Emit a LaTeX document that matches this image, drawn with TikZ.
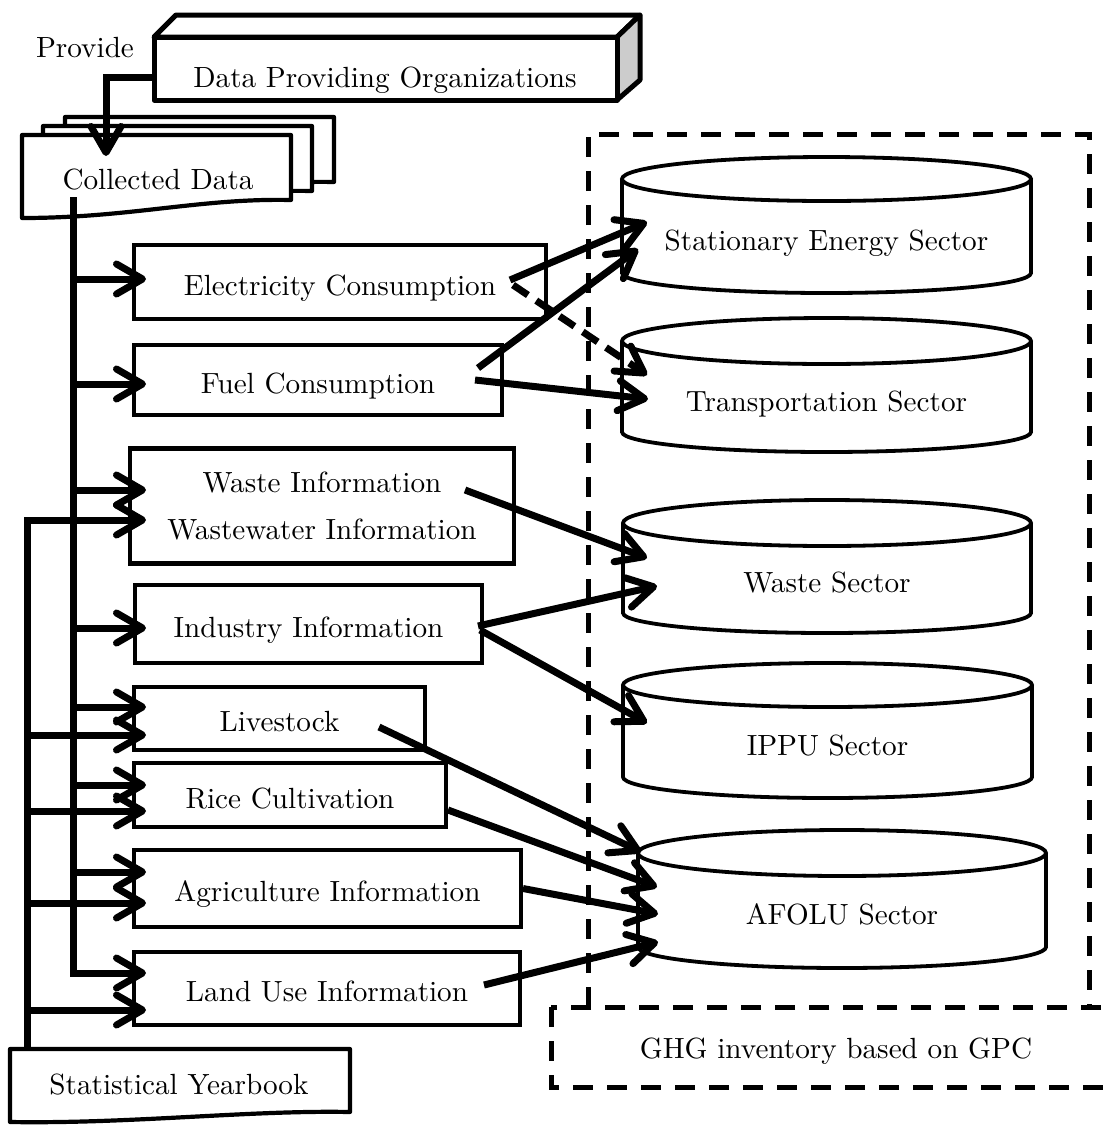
\documentclass[tikz,border=0pt]{standalone}
\usepackage{fontspec}
\setmainfont{lmroman10-regular.otf}
\usetikzlibrary{arrows.meta}

% cylinder outline: #1 left x, #2 right x, #3 top ellipse centre y, #4 its radius,
% #5 lower end of the sides, #6 radius of the bottom curve
\newcommand\sectordrum[6]{%
  \pgfmathsetmacro\drumc{(#1+#2)/2}%
  \pgfmathsetmacro\drumr{(#2-#1)/2}%
  \filldraw[drumline] (#1,#3) -- (#1,#5)
    .. controls ({#1},{#5+0.5523*#6}) and ({\drumc-0.5523*\drumr},{#5+#6}) .. ({\drumc},{#5+#6})
    .. controls ({\drumc+0.5523*\drumr},{#5+#6}) and ({#2},{#5+0.5523*#6}) .. (#2,#5)
    -- (#2,#3);
  \draw[drumline] (\drumc,#3) ellipse [x radius=\drumr, y radius=#4];
}

\begin{document}
\begin{tikzpicture}[x=0.5pt,y=-0.5pt,
  every node/.style={font=\fontsize{14.6}{17}\selectfont, inner sep=0pt, outer sep=0pt},
  lowtext/.style={text height=14pt, text depth=1pt},
  box/.style={draw, line width=2.1pt, fill=white, rectangle},
  body/.style={rectangle, lowtext},
  outline/.style={draw, line width=2.1pt, line join=round, fill=white},
  drumline/.style={draw, line width=1.9pt, fill=white},
  conn/.style={line width=3.5pt, -{Straight Barb[length=13pt,width=15pt,round]}},
  dashconn/.style={conn, dash pattern=on 9pt off 5pt},
  zone/.style={line width=2.5pt, dash pattern=on 10pt off 7pt},
]
\useasboundingbox (0,0) rectangle (1115,1126);

% ---- inventory frame and its caption box
\draw[zone] (588,1007) -- (588,134) -- (1089,134) -- (1089,1007);
\draw[zone] (551,1007) rectangle (1120,1087);
\node[lowtext] (ghg) at (836,1045) {GHG inventory based on GPC};

% ---- data providers (cuboid)
\filldraw[outline, line width=2.5pt] (154,37) -- (176,15) -- (640,15) -- (617,37) -- cycle;
\filldraw[outline, line width=2.5pt, fill=gray!40] (617,37) -- (640,15) -- (640,80) -- (617,100) -- cycle;
\filldraw[outline, line width=2.5pt] (154,37) rectangle (617,100);
\node[lowtext] (dpo) at (385,74) {Data Providing Organizations};
\node[lowtext] (provide) at (85,44) {Provide};

% ---- stacked documents: collected data
\filldraw[outline, shift={(43,-18)}] (22,135) -- (291,135) -- (291,200)
  .. controls (200,198) and (130,218) .. (22,218) -- cycle;
\filldraw[outline, shift={(21,-9)}] (22,135) -- (291,135) -- (291,200)
  .. controls (200,198) and (130,218) .. (22,218) -- cycle;
\filldraw[outline] (22,135) -- (291,135) -- (291,200)
  .. controls (200,198) and (130,218) .. (22,218) -- cycle;
\node[lowtext] (cd) at (158,176) {Collected Data};

% ---- statistical yearbook document
\filldraw[outline] (10,1049) -- (350,1049) -- (350,1112)
  .. controls (250,1110) and (130,1124) .. (10,1122) -- cycle;
\node[lowtext] (syb) at (179,1081) {Statistical Yearbook};

% ---- data items
\node[box, lowtext, minimum width=206pt, minimum height=37pt] (elec) at (340,282) {Electricity Consumption};
\node[box, lowtext, minimum width=184pt, minimum height=35pt] (fuel) at (318,380) {Fuel Consumption};
\node[box, minimum width=192pt, minimum height=57.5pt, align=center,
      font=\fontsize{14.6}{23.5}\selectfont] (waste) at (322,506) {Waste Information\\Wastewater Information};
\node[box, lowtext, minimum width=173.5pt, minimum height=39pt] (indus) at (308.5,624) {Industry Information};
\node[box, lowtext, minimum width=145.5pt, minimum height=31.5pt] (live) at (279.5,718.5) {Livestock};
\node[box, lowtext, minimum width=156pt, minimum height=32pt] (rice) at (290,795) {Rice Cultivation};
\node[box, lowtext, minimum width=193.5pt, minimum height=38.5pt] (agri) at (327.5,888.5) {Agriculture Information};
\node[box, lowtext, minimum width=193pt, minimum height=36.5pt] (land) at (327,988.5) {Land Use Information};

% ---- GPC sectors
\sectordrum{622}{1031}{179}{22}{273}{20}
\sectordrum{622}{1031}{341}{23}{432}{20}
\sectordrum{623}{1031}{523}{23}{613}{20}
\sectordrum{623}{1032}{685}{22}{777}{21}
\sectordrum{638}{1046}{853}{23}{947}{21}
\node[body, minimum width=204.5pt, minimum height=36pt] (stat) at (826.5,237) {Stationary Energy Sector};
\node[body, minimum width=204.5pt, minimum height=34pt] (trans) at (826.5,398) {Transportation Sector};
\node[body, minimum width=204pt, minimum height=33.5pt] (wastes) at (827,579.5) {Waste Sector};
\node[body, minimum width=204.5pt, minimum height=35pt] (ippu) at (827.5,742) {IPPU Sector};
\node[body, minimum width=204pt, minimum height=35.5pt] (afolu) at (842,911.5) {AFOLU Sector};

% ---- provider to collected data
\coordinate (dpoport) at (154,77);
\coordinate (cdin) at (106,156);
\draw[conn] (dpoport) -| (cdin);

% ---- collected data feeds every item
\coordinate (trunk) at (73,197);
\draw[conn] (trunk) |- ([shift={(12,-3)}]elec.west);
\draw[conn] (trunk) |- ([shift={(12,4)}]fuel.west);
\draw[conn] (trunk) |- ([shift={(16,-16)}]waste.west);
\draw[conn] (trunk) |- ([shift={(11,4)}]indus.west);
\draw[conn] (trunk) |- ([shift={(12,-11.5)}]live.west);
\draw[conn] (trunk) |- ([shift={(12,-10)}]rice.west);
\draw[conn] (trunk) |- ([shift={(12,-16.5)}]agri.west);
\draw[conn] (trunk) |- ([shift={(12,-15.5)}]land.west);

% ---- yearbook feeds
\coordinate (ybtop) at (27,1049);
\draw[conn] (ybtop) |- ([shift={(16,14)}]waste.west);
\draw[conn] (ybtop) |- ([shift={(12,16.5)}]live.west);
\draw[conn] (ybtop) |- ([shift={(12,16)}]rice.west);
\draw[conn] (ybtop) |- ([shift={(12,14.5)}]agri.west);
\draw[conn] (ybtop) |- ([shift={(12,21.5)}]land.west);

% ---- items to sectors
\draw[conn] ([shift={(-36,-2)}]elec.east) -- ([shift={(25,-15)}]stat.west);
\draw[conn] ([shift={(-24,-12)}]fuel.east) -- ([shift={(16,12)}]stat.west);
\draw[dashconn] ([shift={(-33,3)}]elec.east) -- ([shift={(25,-23)}]trans.west);
\draw[conn] ([shift={(-27,0)}]fuel.east) -- ([shift={(26,1)}]trans.west);
\draw[conn] ([shift={(-49,-16)}]waste.east) -- ([shift={(24,-21.5)}]wastes.west);
\draw[conn] ([shift={(-4,2)}]indus.east) -- ([shift={(34,6.5)}]wastes.west);
\draw[conn] ([shift={(-2,6)}]indus.east) -- ([shift={(24,-19)}]ippu.west);
\draw[conn] ([shift={(-46,8.5)}]live.east) -- ([shift={(3,-59.5)}]afolu.west);
\draw[conn] ([shift={(2,15)}]rice.east) -- ([shift={(19,-24.5)}]afolu.west);
\draw[conn] ([shift={(2,0)}]agri.east) -- ([shift={(20,2.5)}]afolu.west);
\draw[conn] ([shift={(-36,-3.5)}]land.east) -- ([shift={(20,30.5)}]afolu.west);
\end{tikzpicture}
\end{document}
